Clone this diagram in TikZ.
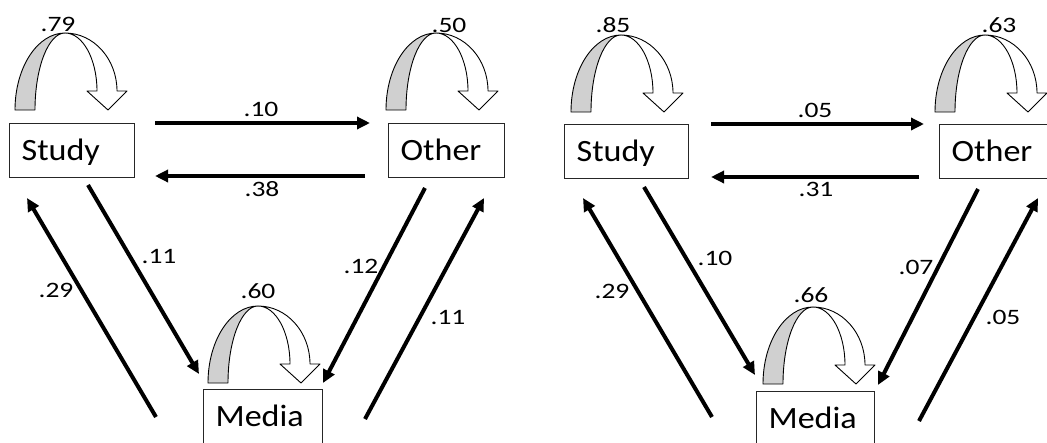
\documentclass[tikz,border=0pt]{standalone}
\usepackage{fontspec}
\setmainfont{Carlito}
\newfontfamily\lblfont[FakeStretch=1.25]{Carlito}
\newfontfamily\boxfont[FakeStretch=1.1]{Carlito}
\usetikzlibrary{arrows.meta}
\definecolor{loopgray}{RGB}{208,208,208}
\tikzset{
  conn/.style={line width=4pt, -{Triangle[length=13pt,width=12pt]}},
  boxnode/.style={draw=black!85, line width=1.2pt, anchor=north west, minimum height=54pt,
    inner xsep=12pt, inner ysep=0pt, align=left, text height=20pt, text depth=0pt,
    font=\boxfont\fontsize{31}{36}\selectfont},
  lbl/.style={anchor=base, inner sep=0pt, font=\lblfont\fontsize{22}{26}\selectfont},
  loopline/.style={draw=black, line width=0.9pt, line join=round}
}
\newcommand\drawselfloop[2]{%
 \filldraw[loopline, fill=loopgray] ({#1-50},{#2+77}) .. controls ({#1-50},{#2+34.5}) and ({#1-27.6},{#2}) .. ({#1},{#2}) .. controls ({#1-16.6},{#2}) and ({#1-30},{#2+34.5}) .. ({#1-30},{#2+77}) -- cycle;
 \filldraw[loopline, fill=white] ({#1},{#2}) .. controls ({#1+28.7},{#2}) and ({#1+52},{#2+26}) .. ({#1+52},{#2+58}) -- ({#1+62},{#2+58}) -- ({#1+43},{#2+77}) -- ({#1+22},{#2+58}) -- ({#1+32},{#2+58}) .. controls ({#1+32},{#2+26}) and ({#1+17.7},{#2}) .. ({#1},{#2}) -- cycle;
}
\begin{document}
\begin{tikzpicture}[x=1pt,y=-1pt]
\useasboundingbox (0,0) rectangle (1047,442);
\clip (0,0) rectangle (1047,442);
% ---------------- left panel ----------------
\node[boxnode, text width=101pt] (S1) at (9,123) {Study};
\node[boxnode, text width=92pt] (O1) at (388,123) {Other};
\node[boxnode, text width=95pt] (M1) at (203,389) {Media};
\drawselfloop{65}{33}
\drawselfloop{436}{33}
\drawselfloop{258}{306}
\node[lbl] (l79) at (58,31) {.79};
\node[lbl] (l50) at (449,32) {.50};
\node[lbl] (l60) at (258,298) {.60};
\coordinate (a1s) at (155,123); \coordinate (a1e) at (370,123);
\coordinate (a2s) at (365,176); \coordinate (a2e) at (155,176);
\coordinate (a3s) at (88,185);  \coordinate (a3e) at (199,374);
\coordinate (a4s) at (156,417); \coordinate (a4e) at (27,198);
\coordinate (a5s) at (425,188); \coordinate (a5e) at (323,383);
\coordinate (a6s) at (365,419); \coordinate (a6e) at (484,198);
\draw[conn] (a1s) -- (a1e);
\draw[conn] (a2s) -- (a2e);
\draw[conn] (a3s) -- (a3e);
\draw[conn] (a4s) -- (a4e);
\draw[conn] (a5s) -- (a5e);
\draw[conn] (a6s) -- (a6e);
\node[lbl] (l10) at (261,116) {.10};
\node[lbl] (l38) at (262,196) {.38};
\node[lbl] (l11a) at (159,263) {.11};
\node[lbl] (l29a) at (56,297) {.29};
\node[lbl] (l12) at (361,273) {.12};
\node[lbl] (l11b) at (448,324) {.11};
% ---------------- right panel ----------------
\node[boxnode, text width=100pt] (S2) at (564,124) {Study};
\node[boxnode, text width=92pt] (O2) at (939,124) {Other};
\node[boxnode, text width=94pt] (M2) at (756,391) {Media};
\drawselfloop{621}{35}
\drawselfloop{985}{35}
\drawselfloop{813}{307}
\node[lbl] (l85) at (613,32) {.85};
\node[lbl] (l63) at (999,32) {.63};
\node[lbl] (l66) at (811,302) {.66};
\coordinate (b1s) at (711,124); \coordinate (b1e) at (924,124);
\coordinate (b2s) at (919,177); \coordinate (b2e) at (711,177);
\coordinate (b3s) at (644,187); \coordinate (b3e) at (755,375);
\coordinate (b4s) at (712,417); \coordinate (b4e) at (583,198);
\coordinate (b5s) at (978,189); \coordinate (b5e) at (878,385);
\coordinate (b6s) at (919,421); \coordinate (b6e) at (1038,198);
\draw[conn] (b1s) -- (b1e);
\draw[conn] (b2s) -- (b2e);
\draw[conn] (b3s) -- (b3e);
\draw[conn] (b4s) -- (b4e);
\draw[conn] (b5s) -- (b5e);
\draw[conn] (b6s) -- (b6e);
\node[lbl] (l05a) at (815,117) {.05};
\node[lbl] (l31) at (816,196) {.31};
\node[lbl] (l10b) at (715,265) {.10};
\node[lbl] (l29b) at (612,298) {.29};
\node[lbl] (l07) at (916,274) {.07};
\node[lbl] (l05b) at (1003,324) {.05};
\end{tikzpicture}
\end{document}
